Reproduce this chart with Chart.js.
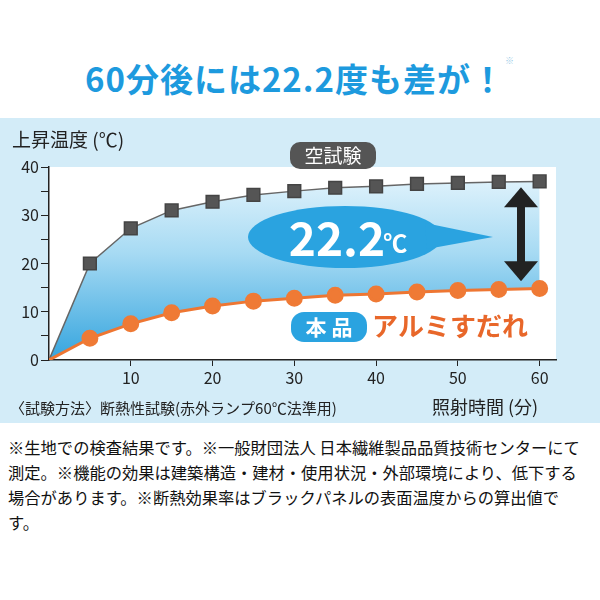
<!DOCTYPE html>
<html><head><meta charset="utf-8">
<script src="https://cdn.jsdelivr.net/npm/chart.js@4/dist/chart.umd.min.js"></script>
<style>
body{margin:0;width:600px;height:600px;background:#fff;font-family:"Noto Sans CJK JP",sans-serif;overflow:hidden}
#title{position:absolute;top:54px;left:0;width:600px;text-align:center;color:#1d9ade;font-weight:bold;font-size:33px;letter-spacing:1px}
#title sup{font-size:9px;color:#9ccde8;vertical-align:top}
#box{position:absolute;top:118px;left:0;width:600px;height:305px;background:#d3ecf8}
#note{position:absolute;top:435px;left:8px;width:580px;font-size:16.3px;line-height:25px;color:#111}
</style></head><body>
<div id="title">60分後には22.2度も差が！<sup>※</sup></div>
<div id="box"><canvas id="c" width="600" height="305"></canvas></div>
<div id="note">※生地での検査結果です。※一般財団法人 日本繊維製品品質技術センターにて測定。※機能の効果は建築構造・建材・使用状況・外部環境により、低下する場合があります。※断熱効果率はブラックパネルの表面温度からの算出値です。</div>
<script>
Chart.defaults.font.family = '"Noto Sans CJK JP", sans-serif';
Chart.defaults.color = '#222';
var minutes = [0, 5, 10, 15, 20, 25, 30, 35, 40, 45, 50, 55, 60];
var blankTest = [0, 20, 27.3, 31, 32.8, 34.2, 35, 35.7, 36, 36.5, 36.7, 36.9, 37];
var product = [0, 4.5, 7.5, 9.8, 11.2, 12.2, 12.8, 13.4, 13.7, 14.1, 14.4, 14.6, 14.8];
var xTicks = [10, 20, 30, 40, 50, 60];
var yTicks = [0, 10, 20, 30, 40];

function pts(arr) { return minutes.map(function (m, i) { return { x: m, y: arr[i] }; }); }

function rr(ctx, x, y, w, h, r) {
    ctx.beginPath(); ctx.moveTo(x + r, y); ctx.arcTo(x + w, y, x + w, y + h, r); ctx.arcTo(x + w, y + h, x, y + h, r);
    ctx.arcTo(x, y + h, x, y, r); ctx.arcTo(x, y, x + w, y, r); ctx.closePath();
}

var deco = {
    id: 'deco',
    beforeDraw: function (chart) {
        var c = chart.ctx, a = chart.chartArea;
        c.save(); c.fillStyle = '#fff'; c.fillRect(a.left, a.top, a.right - a.left, a.bottom - a.top); c.restore();
    },
    afterDraw: function (chart) {
        var c = chart.ctx, ys = chart.scales.y;
        c.save();
        c.fillStyle = '#222'; c.font = '19px "Noto Sans CJK JP"'; c.textBaseline = 'middle';
        c.fillText('上昇温度 (℃)', 12, 22);
        c.font = '15px "Noto Sans CJK JP"';
        c.fillText('〈試験方法〉断熱性試験(赤外ランプ60℃法準用)', 10, 290);
        c.font = '18px "Noto Sans CJK JP"';
        c.fillText('照射時間 (分)', 432, 289);
        // 空試験 label
        c.fillStyle = '#555'; rr(c, 290, 24, 86, 27, 10); c.fill();
        c.fillStyle = '#fff'; c.font = '19px "Noto Sans CJK JP"'; c.textAlign = 'center';
        c.fillText('空試験', 333, 38);
        // bubble
        var bx = 345, by = 237 - 118;
        c.fillStyle = '#2aa3e0';
        c.beginPath(); c.ellipse(bx, by, 97, 31, 0, 0, Math.PI * 2); c.fill();
        c.beginPath(); c.moveTo(bx + 80, by - 14); c.lineTo(bx + 148, by); c.lineTo(bx + 82, by + 12); c.closePath(); c.fill();
        c.fillStyle = '#fff'; c.textAlign = 'left';
        c.font = 'bold 46px "Noto Sans CJK JP"';
        var w1 = c.measureText('22.2').width;
        c.font = 'bold 24px "Noto Sans CJK JP"';
        var w2 = c.measureText('℃').width;
        var sx = bx - (w1 + w2) / 2 + 4;
        c.font = 'bold 46px "Noto Sans CJK JP"'; c.fillText('22.2', sx, by + 2);
        c.font = 'bold 24px "Noto Sans CJK JP"'; c.fillText('℃', sx + w1 - 2, by + 6);
        // 本品 label
        c.textAlign = 'center';
        c.fillStyle = '#2aa3e0'; rr(c, 291, 194, 76, 30, 13); c.fill();
        c.fillStyle = '#fff'; c.font = 'bold 21px "Noto Sans CJK JP"'; c.fillText('本 品', 329, 209);
        c.fillStyle = '#e8672a'; c.font = 'bold 26px "Noto Sans CJK JP"'; c.textAlign = 'left';
        c.fillText('アルミすだれ', 372, 208);
        // double arrow
        var ax = 521, t = ys.getPixelForValue(35.8), b = ys.getPixelForValue(16.3);
        c.fillStyle = '#222';
        c.fillRect(ax - 4, t + 16, 8, b - t - 32);
        c.beginPath(); c.moveTo(ax, t); c.lineTo(ax - 17, t + 20); c.lineTo(ax + 17, t + 20); c.fill();
        c.beginPath(); c.moveTo(ax, b); c.lineTo(ax - 17, b - 20); c.lineTo(ax + 17, b - 20); c.fill();
        c.restore();
    }
};

new Chart(document.getElementById('c'), {
    type: 'line',
    data: {
        datasets: [
            {
                label: '空試験',
                data: pts(blankTest),
                borderColor: '#666', borderWidth: 1.5,
                pointStyle: 'rect', pointRadius: function (ctx) { return ctx.dataIndex === 0 ? 0 : 9; },
                pointBackgroundColor: '#555', pointBorderColor: '#444',
                fill: '+1',
                backgroundColor: function (ctx) {
                    var a = ctx.chart.chartArea;
                    if (!a) return '#8fd0f0';
                    var g = ctx.chart.ctx.createLinearGradient(0, a.top, 0, a.bottom);
                    g.addColorStop(0, '#e8f6fd'); g.addColorStop(0.45, '#a6daf3'); g.addColorStop(1, '#35a5de');
                    return g;
                },
                order: 1
            },
            {
                label: '本品',
                data: pts(product),
                borderColor: '#ee7632', borderWidth: 3,
                pointRadius: function (ctx) { return ctx.dataIndex === 0 ? 0 : 7; },
                pointBackgroundColor: '#ef7a35', pointBorderColor: '#ef7a35',
                fill: false, order: 0
            }
        ]
    },
    options: {
        responsive: false, animation: false,
        layout: { padding: { top: 49, left: 0, right: 44, bottom: 30 } },
        plugins: { legend: { display: false }, tooltip: { enabled: false } },
        scales: {
            x: {
                type: 'linear', min: 0, max: 62,
                afterBuildTicks: function (s) { s.ticks = xTicks.map(function (v) { return { value: v }; }); },
                grid: { drawOnChartArea: false, color: '#222', tickLength: 6 },
                border: { color: '#222', width: 1.5 },
                ticks: { font: { size: 16 }, padding: 2, maxRotation: 0 },
                afterFit: function (s) { s.height = 33; }
            },
            y: {
                min: 0, max: 40,
                ticks: {
                    stepSize: 5, font: { size: 16 }, padding: 2,
                    callback: function (v) { return yTicks.indexOf(v) >= 0 ? v : ''; }
                },
                grid: { drawOnChartArea: false, color: '#222', tickLength: 8 },
                border: { color: '#222', width: 1.5 },
                afterFit: function (s) { s.width = 49; }
            }
        }
    },
    plugins: [deco]
});
</script>
</body></html>
